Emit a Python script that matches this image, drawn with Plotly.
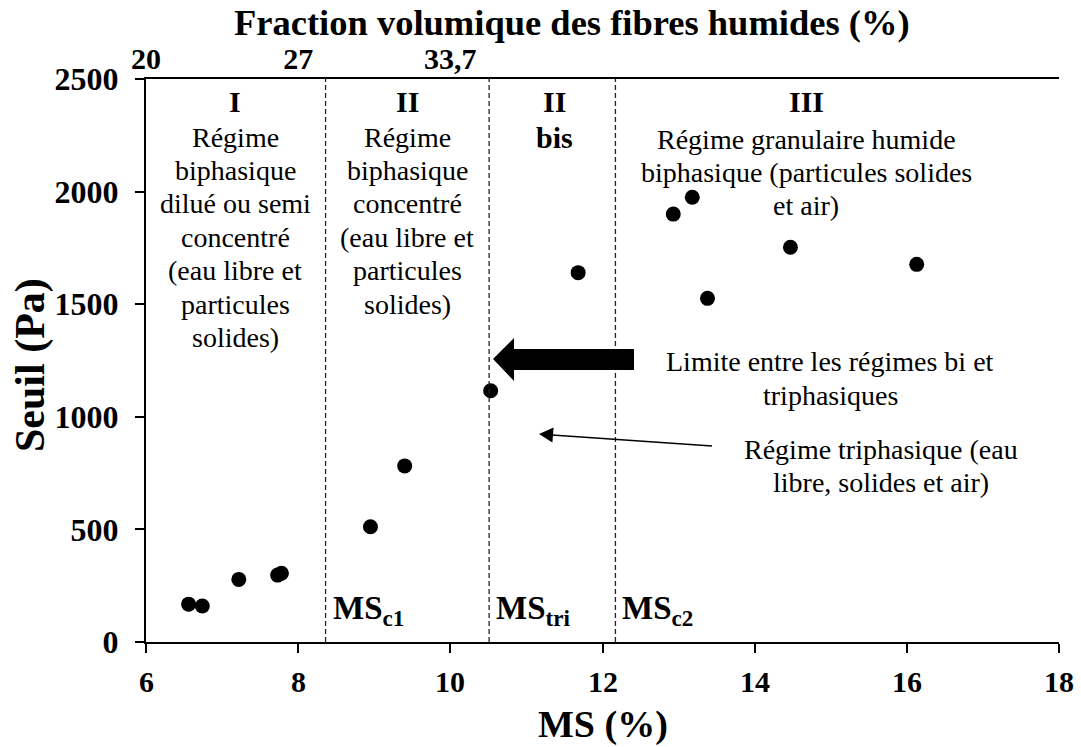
import plotly.graph_objects as go

# Measured yield stress vs. dry matter content
ms = [6.56, 6.74, 7.22, 7.73, 7.78, 8.95, 9.40, 10.53, 11.68, 12.93, 13.18, 13.38, 14.47, 16.13]
seuil = [168, 160, 278, 297, 305, 512, 782, 1116, 1640, 1900, 1975, 1526, 1753, 1677]

# Regime boundaries (MS %)
limit_names = ["c1", "tri", "c2"]
limit_ms = [8.36, 10.51, 12.17]

# Secondary (top) axis: volume fraction of wet fibres
top_tick_pos = [6, 8, 10]
top_tick_text = ["20", "27", "33,7"]

x_ticks = [6, 8, 10, 12, 14, 16, 18]
y_ticks = [0, 500, 1000, 1500, 2000, 2500]

W, H = 1081, 747
L, R, T, B = 146, 22, 79, 105
PW, PH = W - L - R, H - T - B
SERIF = "Liberation Serif, Times New Roman, serif"


def xp(px):
    return (px - L) / PW


def yp(py):
    return (H - B - py) / PH


fig = go.Figure()
fig.add_trace(go.Scatter(
    x=ms, y=seuil, mode="markers",
    marker=dict(size=15, color="black"),
    showlegend=False, hoverinfo="x+y",
))
# invisible copy so the top axis is drawn
fig.add_trace(go.Scatter(
    x=ms, y=seuil, mode="markers", xaxis="x2",
    marker=dict(size=1, opacity=0), showlegend=False, hoverinfo="skip",
))

# vertical dashed regime boundaries
for v in limit_ms:
    fig.add_shape(type="line", xref="x", yref="paper", x0=v, x1=v, y0=0, y1=1,
                  line=dict(color="#222", width=1.3, dash="5px,3px"))

annotations = []


def text(px, py, s, size=28, bold=False, angle=0):
    annotations.append(dict(
        xref="paper", yref="paper", x=xp(px), y=yp(py), text=s, showarrow=False,
        xanchor="center", yanchor="middle", textangle=angle,
        font=dict(family=SERIF, size=size, color="black",
                  weight="bold" if bold else "normal"),
    ))


def block(px, py0, lines, step=33.4, size=28, bold=False):
    for i, s in enumerate(lines):
        text(px, py0 + i * step, s, size=size, bold=bold)


# Region I
text(235, 102, "I", size=30, bold=True)
block(235, 137, ["Régime", "biphasique", "dilué ou semi", "concentré",
                 "(eau libre et", "particules", "solides)"])
# Region II
text(407, 102, "II", size=30, bold=True)
block(407, 137, ["Régime", "biphasique", "concentré", "(eau libre et",
                 "particules", "solides)"])
# Region II bis
text(554, 102, "II", size=30, bold=True)
text(554, 137, "bis", size=30, bold=True)
# Region III
text(806, 102, "III", size=30, bold=True)
block(806, 139, ["Régime granulaire humide", "biphasique (particules solides",
                 "et air)"])
# arrow captions
block(830, 362, ["Limite entre les régimes bi et", "triphasiques"])
block(881, 449, ["Régime triphasique (eau", "libre, solides et air)"])

# boundary labels
for name, v in zip(limit_names, limit_ms):
    annotations.append(dict(
        xref="x", yref="paper", x=v, y=yp(610), xshift=5,
        text=f"MS<sub>{name}</sub>", showarrow=False,
        xanchor="left", yanchor="middle",
        font=dict(family=SERIF, size=33, color="black", weight="bold"),
    ))

# bottom tick labels, placed on the x scale below the axis
for t in x_ticks:
    annotations.append(dict(
        xref="x", yref="paper", x=t, y=yp(681), text=str(t), showarrow=False,
        xanchor="center", yanchor="middle",
        font=dict(family=SERIF, size=30, color="black", weight="bold"),
    ))

# axis titles
text(572, 22, "Fraction volumique des fibres humides (%)", size=36.5, bold=True)
text(603, 724, "MS (%)", size=38, bold=True)
text(30, 365, "Seuil (Pa)", size=42, bold=True, angle=-90)


def path(points):
    return "M " + " L ".join(f"{xp(a):.5f},{yp(b):.5f}" for a, b in points) + " Z"


# thick block arrow marking the bi/triphasic limit
fig.add_shape(type="path", xref="paper", yref="paper",
              path=path([(493, 359), (514, 338), (514, 349), (634, 349),
                         (634, 370), (514, 370), (514, 381)]),
              fillcolor="black", line=dict(color="black", width=0))
# thin arrow pointing at the triphasic regime
fig.add_shape(type="line", xref="paper", yref="paper",
              x0=xp(712), y0=yp(446), x1=xp(552), y1=yp(435),
              line=dict(color="black", width=1.5))
fig.add_shape(type="path", xref="paper", yref="paper",
              path=path([(539, 434), (553.6, 427.5), (552.4, 442.5)]),
              fillcolor="black", line=dict(color="black", width=0))

x_tick_font = dict(family=SERIF, size=30, color="black", weight="bold")
y_tick_font = dict(family=SERIF, size=32, color="black", weight="bold")

fig.update_layout(
    width=W, height=H,
    margin=dict(l=L, r=R, t=T, b=B, pad=0),
    paper_bgcolor="white", plot_bgcolor="white",
    annotations=annotations,
    xaxis=dict(
        range=[6, 18], tickvals=x_ticks, showgrid=False, zeroline=False,
        showline=True, linecolor="black", linewidth=2,
        ticks="outside", ticklen=9, tickwidth=2, tickcolor="black",
        showticklabels=False,
    ),
    xaxis2=dict(
        range=[6, 18], overlaying="x", side="top", tickvals=top_tick_pos,
        ticktext=top_tick_text, showgrid=False, zeroline=False,
        showline=True, linecolor="black", linewidth=2, ticks="",
        tickfont=x_tick_font, ticklabelstandoff=-4,
    ),
    yaxis=dict(
        range=[0, 2500], tickvals=y_ticks, showgrid=False, zeroline=False,
        showline=True, linecolor="black", linewidth=2,
        ticks="outside", ticklen=9, tickwidth=2, tickcolor="black",
        tickfont=y_tick_font, ticklabelstandoff=10,
    ),
)

fig.write_html("out.html")
